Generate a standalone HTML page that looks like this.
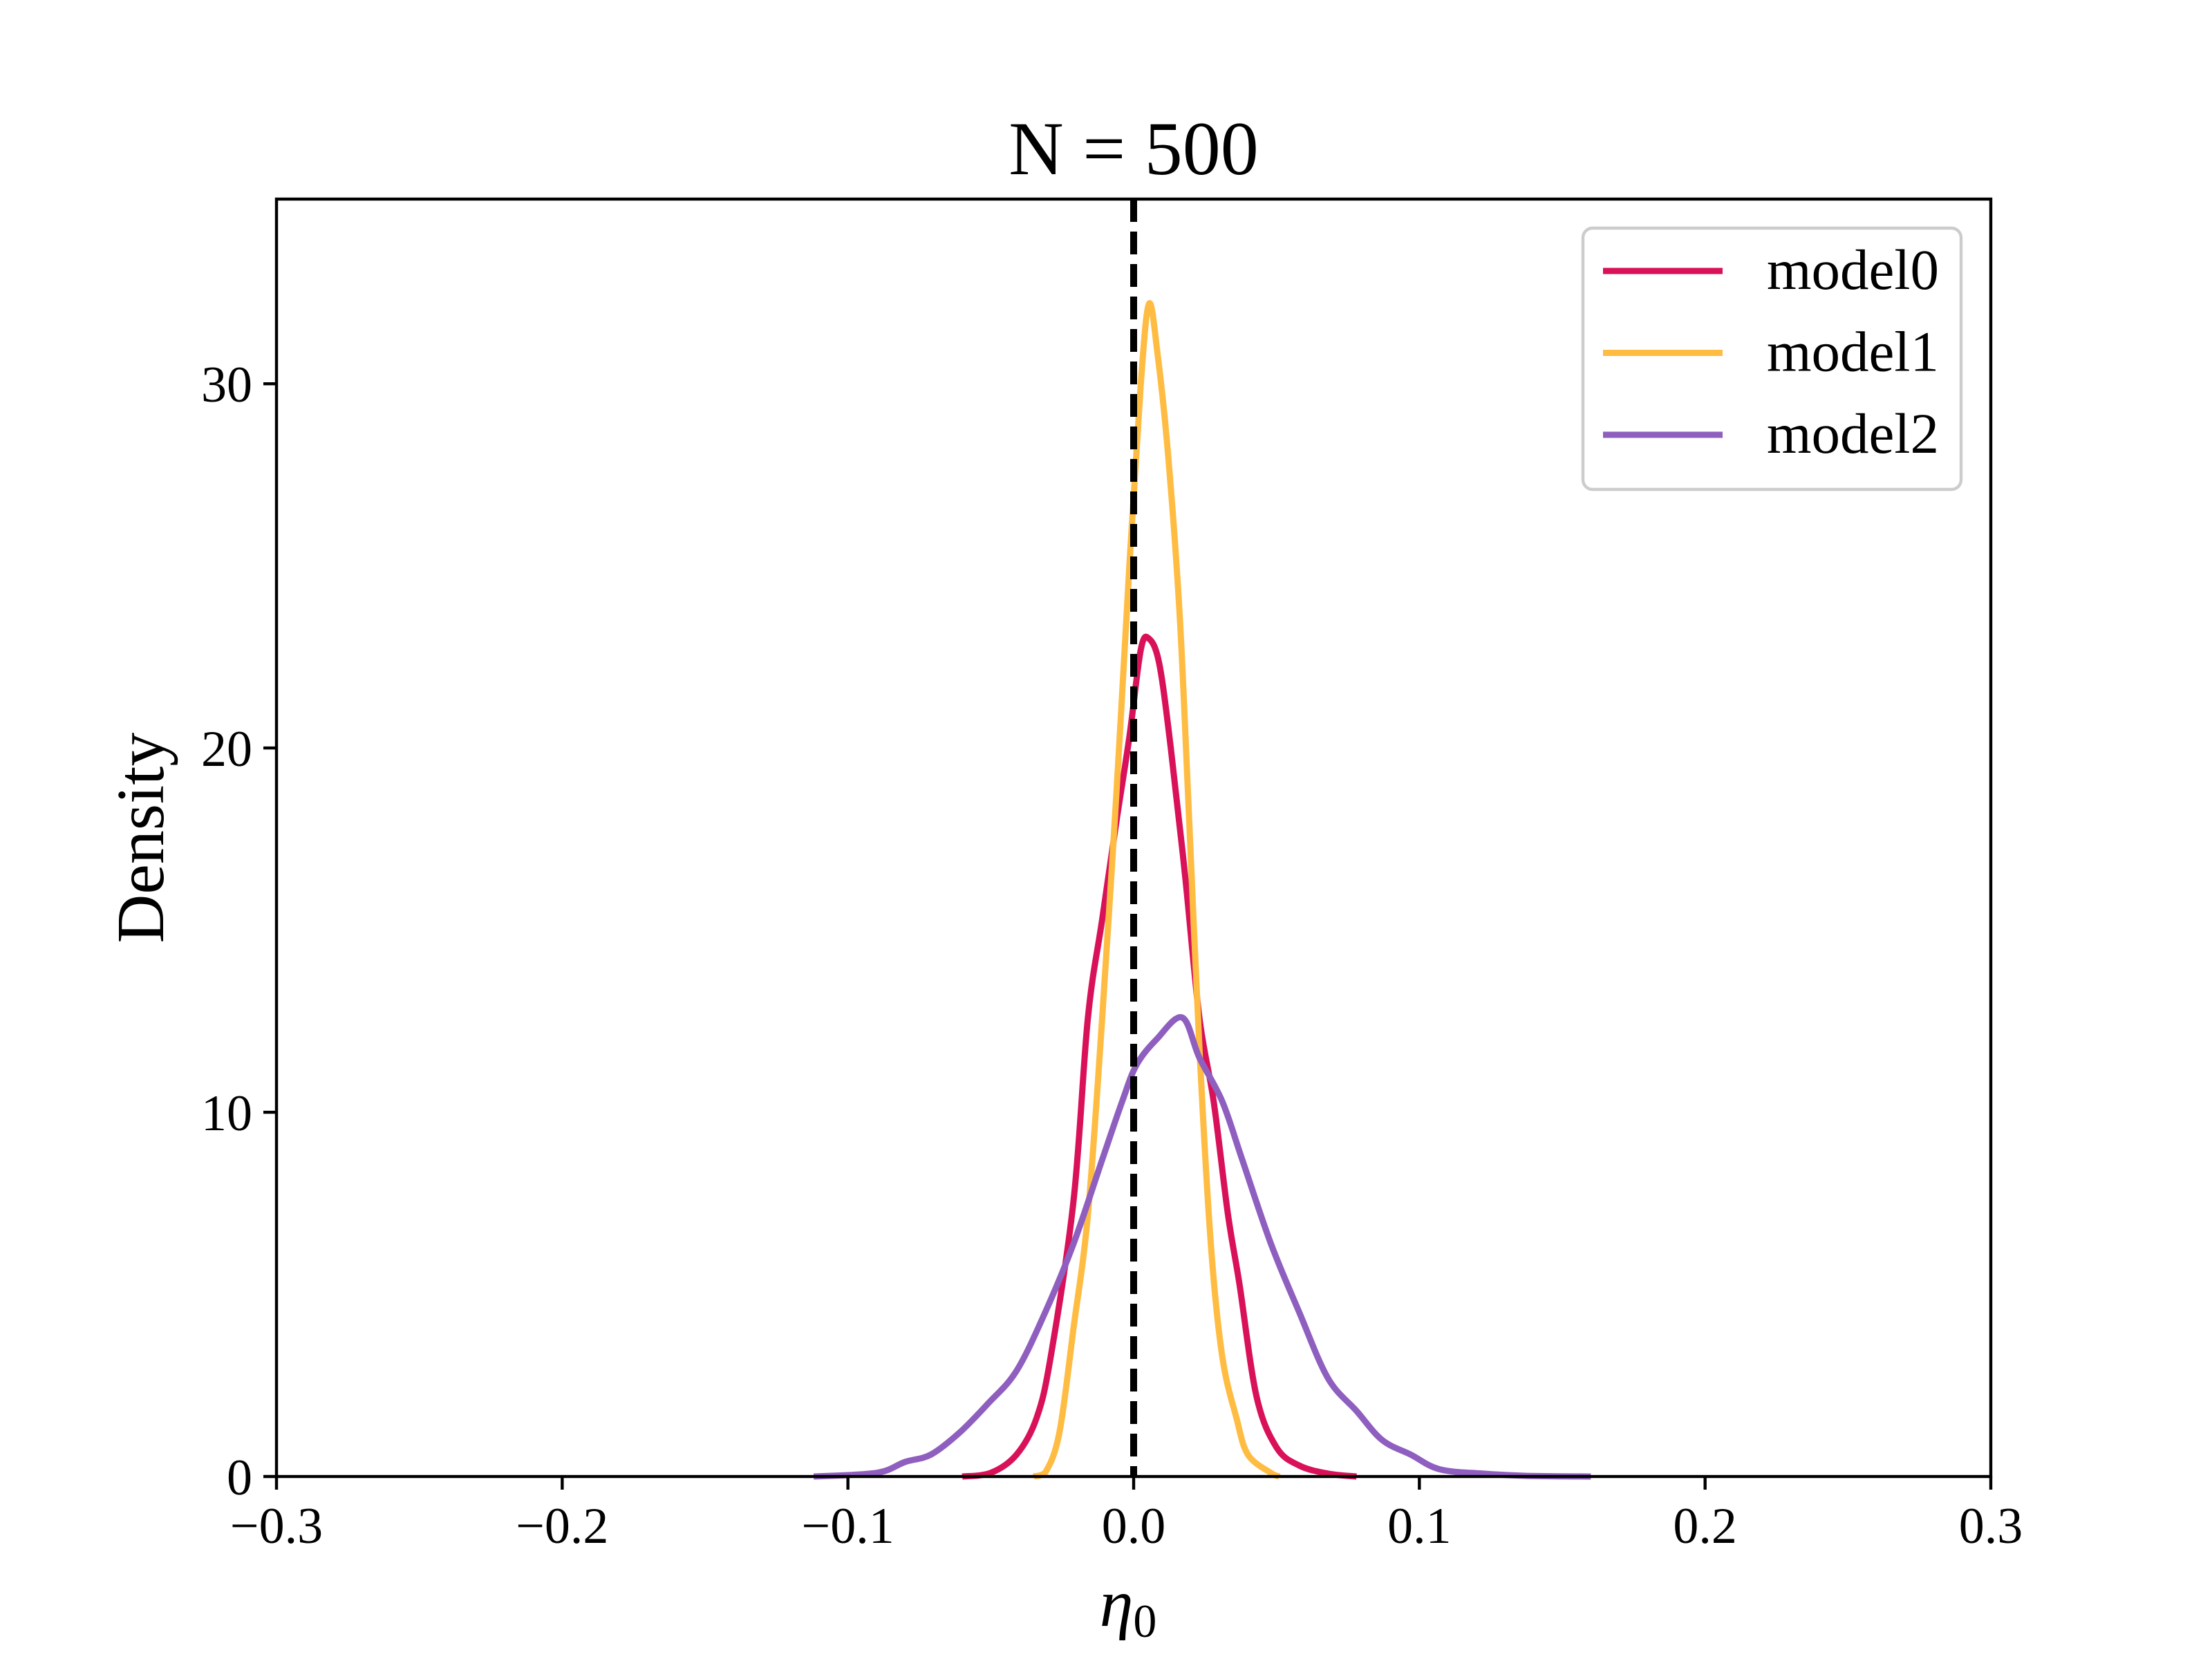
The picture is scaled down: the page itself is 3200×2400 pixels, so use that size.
<!DOCTYPE html>
<html><head><meta charset="utf-8"><style>body{margin:0;background:#fff}svg{display:block}</style></head>
<body>
<svg id="chart" width="3200" height="2400" xmlns="http://www.w3.org/2000/svg" font-family="'Liberation Serif', serif">
<rect width="3200" height="2400" fill="#fff"/>
<g id="plot"></g>
</svg>
<script>
const xTicks = [-0.3, -0.2, -0.1, 0.0, 0.1, 0.2, 0.3];
const xTickLabels = ["\u22120.3", "\u22120.2", "\u22120.1", "0.0", "0.1", "0.2", "0.3"];
const yTicks = [0, 10, 20, 30];
const yTickLabels = ["0", "10", "20", "30"];
const seriesNames = ["model0", "model1", "model2"];
const seriesColors = ["#d81159", "#ffbc42", "#8f5fbf"];
const model0X = [-0.06,-0.05,-0.041,-0.034,-0.029,-0.021,-0.016,-0.011,-0.006,-0.0015,0.0025,0.0054,0.009,0.013,0.018,0.023,0.028,0.033,0.037,0.043,0.050,0.058,0.068,0.078];
const model0Y = [0,0.1,0.6,1.6,3.3,7.6,12.6,15.3,18,20.3,22.7,23,22.3,20,16.5,12.6,10.3,7.2,5.3,2.2,0.8,0.3,0.08,0];
const model1X = [-0.035,-0.031,-0.026,-0.021,-0.016,-0.011,-0.006,-0.0015,0.0025,0.0054,0.0084,0.012,0.016,0.019,0.023,0.027,0.031,0.036,0.040,0.048,0.051];
const model1Y = [0,0.1,1.2,4.1,7.2,12.6,18.8,25,30,32.2,30.8,28.1,23.8,18.8,11.8,6.4,3.3,1.6,0.6,0.1,0];
const model2X = [-0.112,-0.09,-0.08,-0.071,-0.061,-0.051,-0.041,-0.031,-0.021,-0.011,-0.004,0.001,0.008,0.017,0.023,0.031,0.038,0.048,0.058,0.068,0.078,0.087,0.097,0.107,0.122,0.137,0.16];
const model2Y = [0,0.1,0.4,0.6,1.2,2.0,2.9,4.5,6.4,8.7,10.3,11.3,12,12.6,11.5,10.3,8.7,6.4,4.5,2.7,1.8,1.0,0.6,0.2,0.08,0.02,0];
const refLineX = 0.0;

const L=400,R=2880,T=288,B=2136, XMIN=-0.3,XMAX=0.3,YMIN=0,YMAX=35.07;
const sx=v=>L+(v-XMIN)/(XMAX-XMIN)*(R-L);
const sy=v=>B-(v-YMIN)/(YMAX-YMIN)*(B-T);
const NS="http://www.w3.org/2000/svg";
const g=document.getElementById('plot');
function mk(tag,attrs,parent){const e=document.createElementNS(NS,tag);for(const k in attrs)e.setAttribute(k,attrs[k]);(parent||g).appendChild(e);return e;}

function smooth(xs,ys){
  const p=xs.map((x,i)=>[sx(x),sy(ys[i])]);
  let d=`M${p[0][0]},${p[0][1]}`;
  for(let i=0;i<p.length-1;i++){
    const p0=p[Math.max(0,i-1)],p1=p[i],p2=p[i+1],p3=p[Math.min(p.length-1,i+2)];
    const c1=[p1[0]+(p2[0]-p0[0])/6,p1[1]+(p2[1]-p0[1])/6];
    const c2=[p2[0]-(p3[0]-p1[0])/6,p2[1]-(p3[1]-p1[1])/6];
    d+=`C${c1[0]},${Math.min(B,c1[1])} ${c2[0]},${Math.min(B,c2[1])} ${p2[0]},${p2[1]}`;
  }
  return d;
}

const datasets=[[model0X,model0Y],[model1X,model1Y],[model2X,model2Y]];
datasets.forEach((ds,i)=>{
  const e=mk('path',{d:smooth(ds[0],ds[1]),fill:'none',stroke:seriesColors[i],'stroke-width':9,'stroke-linejoin':'round'});
  
  
});

const ref=mk('line',{x1:sx(refLineX),x2:sx(refLineX),y1:T,y2:B,stroke:'#000','stroke-width':10,'stroke-dasharray':'33 14'});



const frame=mk('rect',{x:L,y:T,width:R-L,height:B-T,fill:'none',stroke:'#000','stroke-width':4.4});



xTicks.forEach((v,i)=>{
  const t=mk('line',{x1:sx(v),x2:sx(v),y1:B,y2:B+19,stroke:'#000','stroke-width':4.4});
  
  
  const tx=mk('text',{x:sx(v),y:2232,'font-size':74,'text-anchor':'middle'});
  tx.textContent=xTickLabels[i];
  
  
});
yTicks.forEach((v,i)=>{
  const t=mk('line',{x1:L-19,x2:L,y1:sy(v),y2:sy(v),stroke:'#000','stroke-width':4.4});
  
  
  const tx=mk('text',{x:365,y:sy(v)+26,'font-size':74,'text-anchor':'end'});
  tx.textContent=yTickLabels[i];
  
  
});

const title=mk('text',{x:(L+R)/2,y:252,'font-size':110,'text-anchor':'middle'});
title.textContent='N = 500';



const yl=mk('text',{x:0,y:0,'font-size':98,'text-anchor':'middle',transform:`translate(236,${(T+B)/2}) rotate(-90)`});
yl.textContent='Density';



const xl=mk('text',{x:(L+R)/2-8,y:2352,'font-size':98,'text-anchor':'middle','font-style':'italic'});
xl.textContent='η';
const sub=mk('tspan',{'font-size':68,'font-style':'normal',dy:16},xl);
sub.textContent='0';



const lg=mk('g',{});


const lb=mk('rect',{x:2290,y:330,width:547,height:378,rx:14,fill:'#fff','fill-opacity':0.8,stroke:'#ccc','stroke-width':4.4},lg);


seriesNames.forEach((n,i)=>{
  const y=392+i*118.5;
  const ln=mk('line',{x1:2319,x2:2492,y1:y,y2:y,stroke:seriesColors[i],'stroke-width':9},lg);
  
  
  const tx=mk('text',{x:2556,y:y+26,'font-size':83},lg);
  tx.textContent=n;
  
  
});
</script>
</body></html>
